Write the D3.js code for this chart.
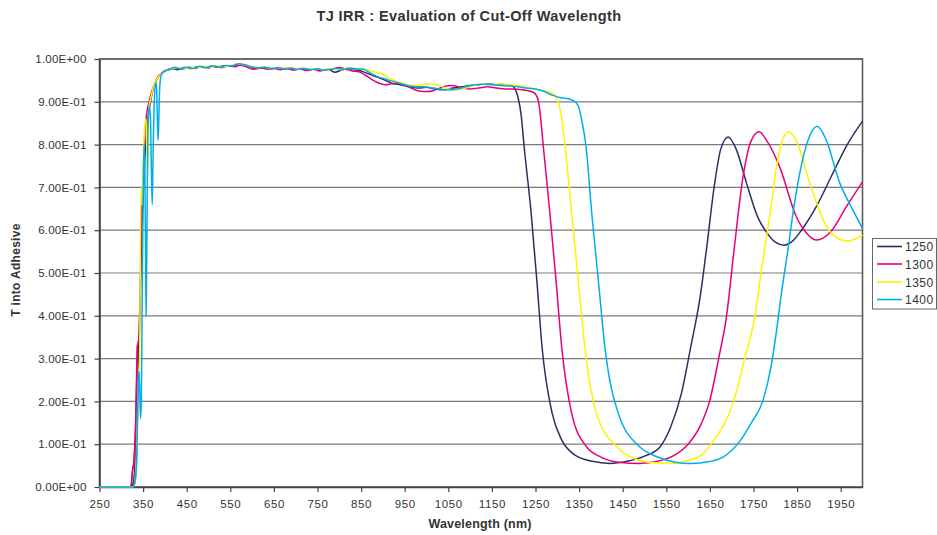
<!DOCTYPE html>
<html>
<head>
<meta charset="utf-8">
<script src="https://cdn.jsdelivr.net/npm/d3@7"></script>
<style>
  html, body { margin: 0; padding: 0; background: #fff; }
  svg { display: block; font-family: "Liberation Sans", Arial, sans-serif; }
</style>
</head>
<body>
<svg id="chart" width="937" height="535"></svg>
<script>
// ---------------- DATA ----------------
const seriesNames = ["1250", "1300", "1350", "1400"];
const seriesColors = ["#2f2e63", "#e6007e", "#fff200", "#00aeef"];

const xTickValues = [250, 350, 450, 550, 650, 750, 850, 950, 1050, 1150, 1250, 1350, 1450, 1550, 1650, 1750, 1850, 1950];
const xTickLabels = ["250", "350", "450", "550", "650", "750", "850", "950", "1050", "1150", "1250", "1350", "1450", "1550", "1650", "1750", "1850", "1950"];
const yTickValues = [0, 0.1, 0.2, 0.3, 0.4, 0.5, 0.6, 0.7, 0.8, 0.9, 1.0];
const yTickLabels = ["0.00E+00", "1.00E-01", "2.00E-01", "3.00E-01", "4.00E-01", "5.00E-01",
                     "6.00E-01", "7.00E-01", "8.00E-01", "9.00E-01", "1.00E+00"];

// [wavelength nm, T]
const data1250 = [
  [250,0],[320,0],[328,0.01],[333,0.08],[338,0.25],[342,0.40],[346,0.55],[351,0.70],[356,0.80],[361,0.86],
  [367,0.90],[374,0.935],[382,0.955],[390,0.965],[400,0.972],
  [415,0.978],[430,0.975],[445,0.98],[460,0.978],[475,0.982],[490,0.98],[505,0.983],[520,0.981],[535,0.984],
  [550,0.983],[565,0.986],[580,0.985],[595,0.982],[610,0.978],[625,0.98],[640,0.977],[655,0.979],[670,0.976],
  [685,0.978],[700,0.976],[715,0.978],[730,0.975],[745,0.977],[760,0.974],[775,0.976],[790,0.969],[805,0.974],
  [820,0.978],[835,0.975],[850,0.972],[865,0.966],[880,0.96],[895,0.955],[910,0.948],[925,0.942],[940,0.94],
  [960,0.935],[980,0.932],[1000,0.934],[1020,0.93],[1040,0.928],[1060,0.932],[1080,0.935],[1100,0.938],
  [1120,0.94],[1140,0.942],[1160,0.94],[1180,0.94],[1195,0.938],
  [1203,0.93],[1210,0.91],[1217,0.87],[1224,0.795],[1240,0.64],[1253,0.484],[1265,0.327],[1288,0.173],
  [1310,0.11],[1340,0.075],[1380,0.06],[1421,0.055],[1460,0.06],[1500,0.072],[1535,0.093],[1560,0.14],
  [1585,0.22],[1606,0.327],[1627,0.44],[1642,0.554],[1661,0.71],[1675,0.79],[1692,0.818],[1710,0.79],
  [1734,0.71],[1760,0.63],[1780,0.595],[1800,0.572],[1820,0.565],[1840,0.575],[1860,0.60],[1894,0.655],
  [1932,0.733],[1965,0.80],[2000,0.855]
];

const data1300 = [
  [250,0],[322,0],[326,0.04],[329,0.06],[333,0.15],[337,0.33],[341,0.35],[345,0.55],[348,0.70],[350,0.68],
  [353,0.80],[358,0.87],[364,0.90],[370,0.925],[378,0.945],[388,0.962],[400,0.972],
  [412,0.976],[425,0.98],[440,0.976],[455,0.981],[470,0.978],[485,0.982],[500,0.979],[515,0.983],[530,0.98],
  [545,0.984],[560,0.982],[575,0.986],[590,0.98],[605,0.976],[620,0.979],[635,0.976],[650,0.978],[665,0.975],
  [680,0.978],[695,0.974],[710,0.977],[725,0.973],[740,0.976],[755,0.972],[770,0.975],[785,0.977],[800,0.98],
  [815,0.976],[830,0.972],[845,0.97],[860,0.962],[875,0.952],[890,0.944],[905,0.94],[920,0.942],[935,0.944],
  [950,0.94],[965,0.932],[980,0.926],[1000,0.924],[1015,0.926],[1030,0.932],[1045,0.937],[1060,0.938],
  [1080,0.933],[1100,0.93],[1120,0.932],[1140,0.935],[1160,0.932],[1180,0.93],[1200,0.93],[1220,0.928],
  [1240,0.924],[1250,0.918],[1257,0.9],[1262,0.86],[1268,0.795],[1283,0.64],[1297,0.484],[1310,0.328],
  [1333,0.172],[1367,0.094],[1400,0.07],[1440,0.058],[1489,0.055],[1530,0.06],[1570,0.075],[1600,0.1],
  [1627,0.141],[1650,0.203],[1670,0.30],[1688,0.398],[1705,0.55],[1726,0.725],[1745,0.81],[1763,0.83],
  [1780,0.81],[1810,0.748],[1848,0.632],[1870,0.595],[1894,0.577],[1930,0.60],[1963,0.655],[2000,0.713]
];

const data1350 = [
  [250,0],[326,0],[331,0.01],[336,0.12],[339,0.25],[342,0.30],[345,0.70],[347,0.66],[350,0.75],[354,0.85],
  [357,0.86],[360,0.72],[363,0.88],[368,0.91],[375,0.94],[385,0.958],[400,0.972],
  [415,0.977],[430,0.979],[445,0.977],[460,0.981],[475,0.979],[490,0.983],[505,0.98],[520,0.984],[535,0.982],
  [550,0.985],[565,0.989],[580,0.987],[595,0.983],[610,0.98],[625,0.982],[640,0.978],[655,0.98],[670,0.978],
  [685,0.98],[700,0.977],[715,0.979],[730,0.976],[745,0.978],[760,0.975],[775,0.977],[790,0.978],[805,0.975],
  [820,0.98],[835,0.977],[850,0.978],[865,0.975],[880,0.97],[895,0.966],[910,0.958],[925,0.95],[940,0.945],
  [955,0.94],[970,0.938],[990,0.94],[1010,0.942],[1030,0.938],[1050,0.93],[1070,0.928],[1090,0.932],
  [1110,0.938],[1130,0.942],[1150,0.94],[1170,0.942],[1190,0.94],[1210,0.938],[1230,0.934],[1250,0.93],
  [1270,0.926],[1291,0.918],[1300,0.905],[1307,0.88],[1318,0.795],[1333,0.64],[1348,0.484],[1363,0.328],
  [1390,0.172],[1436,0.094],[1480,0.065],[1520,0.057],[1565,0.055],[1600,0.062],[1627,0.072],[1660,0.11],
  [1703,0.196],[1730,0.30],[1753,0.398],[1770,0.52],[1787,0.632],[1805,0.76],[1818,0.815],[1831,0.83],
  [1850,0.805],[1879,0.71],[1917,0.61],[1945,0.58],[1967,0.575],[1985,0.58],[2000,0.589]
];

const data1400 = [
  [250,0],[326,0],[331,0.01],[335,0.06],[338,0.2],[340,0.27],[342,0.24],[344,0.16],[346,0.2],[348,0.45],
  [350,0.68],[352,0.80],[354,0.75],[356,0.50],[357,0.40],[359,0.62],[361,0.83],[364,0.89],[367,0.86],
  [369,0.74],[371,0.66],[373,0.78],[376,0.91],[379,0.945],[381,0.93],[383,0.85],[384.5,0.81],[386,0.86],
  [388,0.93],[391,0.96],[395,0.968],[400,0.972],
  [410,0.975],[422,0.98],[435,0.977],[450,0.981],[465,0.978],[480,0.983],[495,0.98],[510,0.984],[525,0.981],
  [540,0.985],[555,0.984],[570,0.989],[585,0.986],[600,0.982],[615,0.979],[630,0.981],[645,0.978],[660,0.98],
  [675,0.977],[690,0.979],[705,0.976],[720,0.978],[735,0.975],[750,0.977],[765,0.974],[780,0.976],[795,0.978],
  [810,0.976],[825,0.979],[840,0.977],[855,0.976],[870,0.968],[885,0.96],[900,0.955],[915,0.95],[930,0.946],
  [950,0.94],[970,0.936],[990,0.935],[1010,0.933],[1030,0.93],[1050,0.928],[1070,0.93],[1090,0.935],
  [1110,0.94],[1130,0.941],[1150,0.94],[1170,0.938],[1190,0.937],[1210,0.935],[1230,0.932],[1250,0.93],
  [1270,0.924],[1290,0.915],[1305,0.91],[1320,0.908],[1334,0.904],[1343,0.898],[1350,0.885],[1356,0.857],
  [1366,0.795],[1379,0.64],[1394,0.484],[1409,0.328],[1440,0.172],[1489,0.094],[1530,0.07],[1570,0.058],
  [1604,0.055],[1640,0.058],[1680,0.07],[1718,0.106],[1745,0.15],[1772,0.203],[1790,0.28],[1802,0.359],
  [1815,0.46],[1829,0.554],[1842,0.65],[1856,0.733],[1875,0.81],[1896,0.843],[1915,0.815],[1948,0.71],
  [1978,0.647],[2000,0.604]
];

const allSeries = [data1250, data1300, data1350, data1400];

// ---------------- CHART ----------------
const svg = d3.select("#chart");
const plot = { left: 99.5, right: 862.5, top: 59, bottom: 487 };

const x = d3.scaleLinear().domain([250, 2000]).range([plot.left, plot.right]);
const y = d3.scaleLinear().domain([0, 1]).range([plot.bottom, plot.top]);

// gridlines
svg.append("g")
  .selectAll("line")
  .data(yTickValues.filter(v => v > 0))
  .join("line")
  .attr("x1", plot.left).attr("x2", plot.right)
  .attr("y1", d => y(d)).attr("y2", d => y(d))
  .attr("stroke", "#7a7a7a").attr("stroke-width", 1.2);

// plot border
svg.append("rect")
  .attr("x", plot.left).attr("y", plot.top)
  .attr("width", plot.right - plot.left).attr("height", plot.bottom - plot.top)
  .attr("fill", "none").attr("stroke", "#5a5a5a").attr("stroke-width", 1.6);

// lines
const line = d3.line().x(d => x(d[0])).y(d => y(d[1])).curve(d3.curveMonotoneX);
svg.append("g")
  .selectAll("path")
  .data(allSeries)
  .join("path")
  .attr("d", d => line(d))
  .attr("fill", "none")
  .attr("stroke", (d, i) => seriesColors[i])
  .attr("stroke-width", 1.5)
  .attr("stroke-linejoin", "round");

// axes
const xAxis = d3.axisBottom(x).tickValues(xTickValues)
  .tickFormat((d, i) => xTickLabels[i]).tickSize(5).tickSizeOuter(0).tickPadding(8);
const gx = svg.append("g").attr("transform", `translate(0,${plot.bottom})`).call(xAxis);
gx.select(".domain").attr("stroke", "#444").attr("stroke-width", 1.6);
gx.selectAll(".tick line").attr("stroke", "#444").attr("stroke-width", 1.2);
gx.selectAll(".tick text")
  .attr("fill", "#333").attr("font-size", "11.5px").attr("letter-spacing", "0.6px")
  .attr("font-family", "Liberation Sans, Arial, sans-serif");

const yAxis = d3.axisLeft(y).tickValues(yTickValues)
  .tickFormat((d, i) => yTickLabels[i]).tickSize(5).tickSizeOuter(0).tickPadding(8);
const gy = svg.append("g").attr("transform", `translate(${plot.left},0)`).call(yAxis);
gy.select(".domain").attr("stroke", "#444").attr("stroke-width", 1.6);
gy.selectAll(".tick line").attr("stroke", "#444").attr("stroke-width", 1.2);
gy.selectAll(".tick text")
  .attr("fill", "#333").attr("font-size", "11.5px").attr("letter-spacing", "0.2px")
  .attr("font-family", "Liberation Sans, Arial, sans-serif");

// redraw the baseline part of the series above the x axis
svg.append("g")
  .selectAll("path")
  .data(allSeries)
  .join("path")
  .attr("d", d => line(d.filter(p => p[0] <= 340)))
  .attr("fill", "none")
  .attr("stroke", (d, i) => seriesColors[i])
  .attr("stroke-width", 1.5);

// title
svg.append("text")
  .attr("x", 469).attr("y", 21)
  .attr("text-anchor", "middle")
  .attr("font-size", "14.5px").attr("font-weight", "bold").attr("fill", "#333")
  .attr("letter-spacing", "0.4px")
  .text("TJ IRR : Evaluation of Cut-Off Wavelength");

// axis titles
svg.append("text")
  .attr("x", 480).attr("y", 528)
  .attr("text-anchor", "middle")
  .attr("font-size", "12.5px").attr("font-weight", "bold").attr("fill", "#333")
  .attr("letter-spacing", "0.2px")
  .text("Wavelength (nm)");

svg.append("text")
  .attr("transform", "translate(20,270) rotate(-90)")
  .attr("text-anchor", "middle")
  .attr("font-size", "12px").attr("font-weight", "bold").attr("fill", "#333")
  .attr("letter-spacing", "0.3px")
  .text("T into Adhesive");

// legend
const lg = svg.append("g");
lg.append("rect")
  .attr("x", 872.5).attr("y", 238.5).attr("width", 64).attr("height", 70.5)
  .attr("fill", "#fff").attr("stroke", "#666").attr("stroke-width", 1);
const rowsY = [246.5, 264, 282, 299.5];
seriesNames.forEach((name, i) => {
  lg.append("line")
    .attr("x1", 877).attr("x2", 902)
    .attr("y1", rowsY[i]).attr("y2", rowsY[i])
    .attr("stroke", seriesColors[i]).attr("stroke-width", 1.6);
  lg.append("text")
    .attr("x", 905).attr("y", rowsY[i] + 4.5)
    .attr("font-size", "12px").attr("fill", "#333").attr("letter-spacing", "0.5px")
    .text(name);
});
</script>
</body>
</html>
